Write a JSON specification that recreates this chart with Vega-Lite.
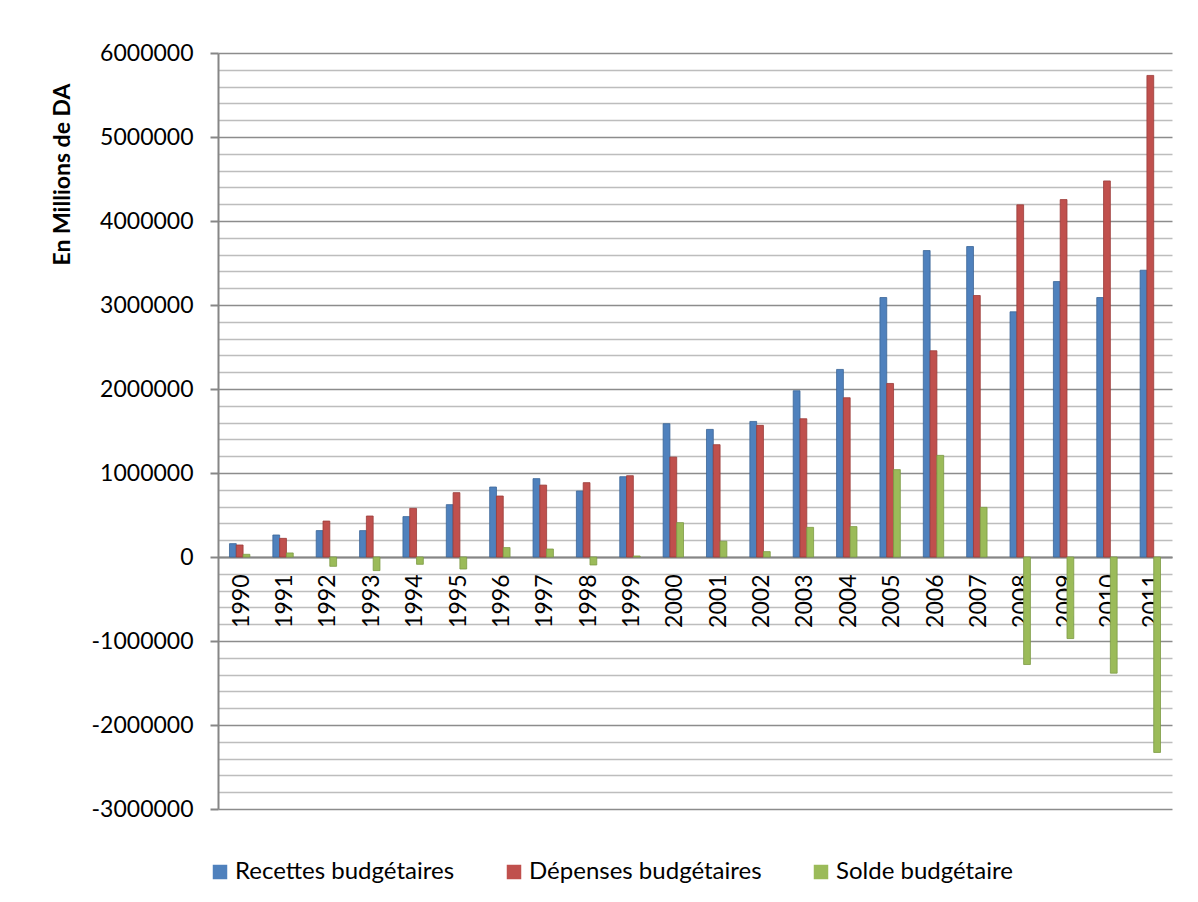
{
  "$schema": "https://vega.github.io/schema/vega-lite/v6.json",
  "autosize": "none",
  "width": 954,
  "height": 756,
  "padding": {"left": 218, "top": 53, "right": 26, "bottom": 93},
  "background": "#ffffff",
  "config": {
    "view": {"stroke": null},
    "font": "Lato",
    "axis": {"labelFont": "Lato", "titleFont": "Lato", "labelColor": "#000000", "titleColor": "#000000"}
  },
  "data": {
    "values": [
      {"annee": "1990", "serie": "Recettes budgétaires", "valeur": 159000},
      {"annee": "1990", "serie": "Dépenses budgétaires", "valeur": 143000},
      {"annee": "1990", "serie": "Solde budgétaire", "valeur": 32000},
      {"annee": "1991", "serie": "Recettes budgétaires", "valeur": 262000},
      {"annee": "1991", "serie": "Dépenses budgétaires", "valeur": 222000},
      {"annee": "1991", "serie": "Solde budgétaire", "valeur": 48000},
      {"annee": "1992", "serie": "Recettes budgétaires", "valeur": 314000},
      {"annee": "1992", "serie": "Dépenses budgétaires", "valeur": 428000},
      {"annee": "1992", "serie": "Solde budgétaire", "valeur": -111000},
      {"annee": "1993", "serie": "Recettes budgétaires", "valeur": 314000},
      {"annee": "1993", "serie": "Dépenses budgétaires", "valeur": 488000},
      {"annee": "1993", "serie": "Solde budgétaire", "valeur": -162000},
      {"annee": "1994", "serie": "Recettes budgétaires", "valeur": 481000},
      {"annee": "1994", "serie": "Dépenses budgétaires", "valeur": 579000},
      {"annee": "1994", "serie": "Solde budgétaire", "valeur": -87000},
      {"annee": "1995", "serie": "Recettes budgétaires", "valeur": 623000},
      {"annee": "1995", "serie": "Dépenses budgétaires", "valeur": 766000},
      {"annee": "1995", "serie": "Solde budgétaire", "valeur": -143000},
      {"annee": "1996", "serie": "Recettes budgétaires", "valeur": 833000},
      {"annee": "1996", "serie": "Dépenses budgétaires", "valeur": 726000},
      {"annee": "1996", "serie": "Solde budgétaire", "valeur": 112000},
      {"annee": "1997", "serie": "Recettes budgétaires", "valeur": 933000},
      {"annee": "1997", "serie": "Dépenses budgétaires", "valeur": 856000},
      {"annee": "1997", "serie": "Solde budgétaire", "valeur": 95000},
      {"annee": "1998", "serie": "Recettes budgétaires", "valeur": 785000},
      {"annee": "1998", "serie": "Dépenses budgétaires", "valeur": 885000},
      {"annee": "1998", "serie": "Solde budgétaire", "valeur": -95000},
      {"annee": "1999", "serie": "Recettes budgétaires", "valeur": 956000},
      {"annee": "1999", "serie": "Dépenses budgétaires", "valeur": 968000},
      {"annee": "1999", "serie": "Solde budgétaire", "valeur": 12000},
      {"annee": "2000", "serie": "Recettes budgétaires", "valeur": 1587000},
      {"annee": "2000", "serie": "Dépenses budgétaires", "valeur": 1189000},
      {"annee": "2000", "serie": "Solde budgétaire", "valeur": 409000},
      {"annee": "2001", "serie": "Recettes budgétaires", "valeur": 1519000},
      {"annee": "2001", "serie": "Dépenses budgétaires", "valeur": 1337000},
      {"annee": "2001", "serie": "Solde budgétaire", "valeur": 187000},
      {"annee": "2002", "serie": "Recettes budgétaires", "valeur": 1614000},
      {"annee": "2002", "serie": "Dépenses budgétaires", "valeur": 1567000},
      {"annee": "2002", "serie": "Solde budgétaire", "valeur": 64000},
      {"annee": "2003", "serie": "Recettes budgétaires", "valeur": 1979000},
      {"annee": "2003", "serie": "Dépenses budgétaires", "valeur": 1646000},
      {"annee": "2003", "serie": "Solde budgétaire", "valeur": 353000},
      {"annee": "2004", "serie": "Recettes budgétaires", "valeur": 2233000},
      {"annee": "2004", "serie": "Dépenses budgétaires", "valeur": 1896000},
      {"annee": "2004", "serie": "Solde budgétaire", "valeur": 362000},
      {"annee": "2005", "serie": "Recettes budgétaires", "valeur": 3089000},
      {"annee": "2005", "serie": "Dépenses budgétaires", "valeur": 2066000},
      {"annee": "2005", "serie": "Solde budgétaire", "valeur": 1040000},
      {"annee": "2006", "serie": "Recettes budgétaires", "valeur": 3648000},
      {"annee": "2006", "serie": "Dépenses budgétaires", "valeur": 2455000},
      {"annee": "2006", "serie": "Solde budgétaire", "valeur": 1210000},
      {"annee": "2007", "serie": "Recettes budgétaires", "valeur": 3696000},
      {"annee": "2007", "serie": "Dépenses budgétaires", "valeur": 3113000},
      {"annee": "2007", "serie": "Solde budgétaire", "valeur": 591000},
      {"annee": "2008", "serie": "Recettes budgétaires", "valeur": 2919000},
      {"annee": "2008", "serie": "Dépenses budgétaires", "valeur": 4192000},
      {"annee": "2008", "serie": "Solde budgétaire", "valeur": -1280000},
      {"annee": "2009", "serie": "Recettes budgétaires", "valeur": 3279000},
      {"annee": "2009", "serie": "Dépenses budgétaires", "valeur": 4255000},
      {"annee": "2009", "serie": "Solde budgétaire", "valeur": -971000},
      {"annee": "2010", "serie": "Recettes budgétaires", "valeur": 3089000},
      {"annee": "2010", "serie": "Dépenses budgétaires", "valeur": 4477000},
      {"annee": "2010", "serie": "Solde budgétaire", "valeur": -1383000},
      {"annee": "2011", "serie": "Recettes budgétaires", "valeur": 3414000},
      {"annee": "2011", "serie": "Dépenses budgétaires", "valeur": 5733000},
      {"annee": "2011", "serie": "Solde budgétaire", "valeur": -2327000}
    ]
  },
  "mark": {"type": "bar", "strokeWidth": 0.8},
  "encoding": {
    "x": {
      "field": "annee",
      "type": "ordinal",
      "scale": {"paddingInner": 0.53, "paddingOuter": 0.265},
      "axis": {
        "title": null,
        "offset": -252,
        "zindex": 0,
        "domainColor": "#868686",
        "domainWidth": 2,
        "ticks": false,
        "grid": false,
        "labelAngle": 270,
        "labelFontSize": 23,
        "labelPadding": 17,
        "labelBaseline": "middle",
        "labelAlign": "right",
        "labelOffset": 2
      }
    },
    "xOffset": {
      "field": "serie",
      "type": "nominal",
      "sort": ["Recettes budgétaires", "Dépenses budgétaires", "Solde budgétaire"],
      "scale": {"paddingInner": 0, "paddingOuter": 0}
    },
    "y": {
      "field": "valeur",
      "type": "quantitative",
      "scale": {"domain": [-3000000, 6000000], "nice": false, "zero": false},
      "axis": {
        "title": "En Millions de DA",
        "titleFontSize": 23,
        "titleFontWeight": "bold",
        "titleAngle": 270,
        "titleAlign": "center",
        "titleBaseline": "middle",
        "titleX": -156,
        "titleY": 121,
        "values": [-3000000, -2800000, -2600000, -2400000, -2200000, -2000000, -1800000, -1600000, -1400000, -1200000, -1000000, -800000, -600000, -400000, -200000, 0, 200000, 400000, 600000, 800000, 1000000, 1200000, 1400000, 1600000, 1800000, 2000000, 2200000, 2400000, 2600000, 2800000, 3000000, 3200000, 3400000, 3600000, 3800000, 4000000, 4200000, 4400000, 4600000, 4800000, 5000000, 5200000, 5400000, 5600000, 5800000, 6000000],
        "labelExpr": "datum.value % 1000000 === 0 ? '' + datum.value : ''",
        "labelFontSize": 23,
        "labelPadding": 17,
        "labelBaseline": "middle",
        "domainColor": "#868686",
        "domainWidth": 2,
        "tickSize": 8,
        "tickWidth": 2,
        "tickColor": "#868686",
        "tickOpacity": {"condition": {"test": "datum.value % 1000000 === 0", "value": 1}, "value": 0},
        "grid": true,
        "gridWidth": 1.6,
        "gridColor": {"condition": {"test": "datum.value % 1000000 === 0", "value": "#8c8c8c"}, "value": "#bdbdbd"}
      }
    },
    "color": {
      "field": "serie",
      "type": "nominal",
      "sort": ["Recettes budgétaires", "Dépenses budgétaires", "Solde budgétaire"],
      "scale": {
        "domain": ["Recettes budgétaires", "Dépenses budgétaires", "Solde budgétaire"],
        "range": ["#4f81bd", "#c0504d", "#9bbb59"]
      },
      "legend": {
        "title": null,
        "orient": "none",
        "direction": "horizontal",
        "legendX": -10,
        "legendY": 807,
        "padding": 0,
        "symbolType": "square",
        "symbolSize": 210,
        "symbolStrokeWidth": 0,
        "labelFont": "Lato",
        "labelFontSize": 24,
        "labelLimit": 0,
        "labelColor": "#000000",
        "labelOffset": 3,
        "columnPadding": 47
      }
    },
    "stroke": {
      "field": "serie",
      "type": "nominal",
      "scale": {
        "domain": ["Recettes budgétaires", "Dépenses budgétaires", "Solde budgétaire"],
        "range": ["#3a6597", "#9a3b39", "#7c9a44"]
      },
      "legend": null
    }
  }
}
